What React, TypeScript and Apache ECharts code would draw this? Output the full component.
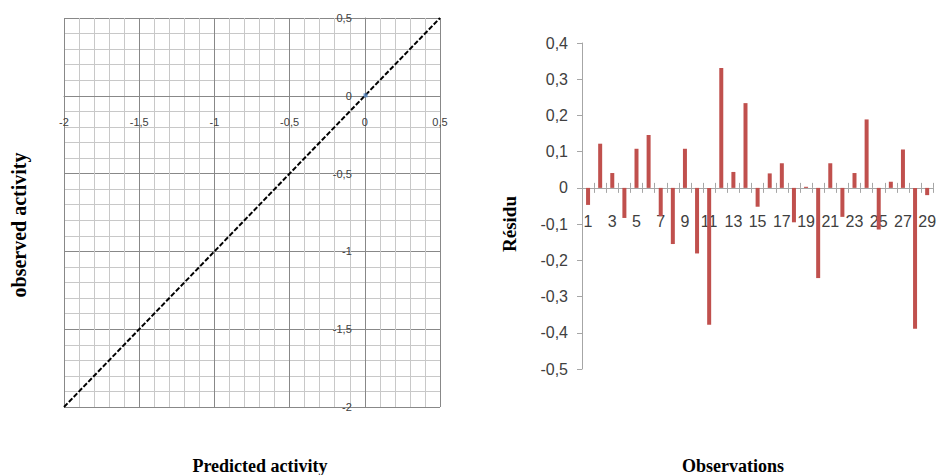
import React, { useEffect, useRef } from "react";
import * as echarts from "echarts";

// Left chart: predicted vs observed
const scatterTicks = [-2, -1.5, -1, -0.5, 0, 0.5];
const identityX = [-2, 0.5];
const identityY = [-2, 0.5];
const pointX = [0.005];
const pointY = [0.003];

// Right chart: residuals per observation
const observations = [
  "1", "2", "3", "4", "5", "6", "7", "8", "9", "10",
  "11", "12", "13", "14", "15", "16", "17", "18", "19", "20",
  "21", "22", "23", "24", "25", "26", "27", "28", "29",
];
const residuals = [
  -0.047, 0.122, 0.041, -0.083, 0.108, 0.146, -0.078, -0.155, 0.108, -0.181,
  -0.378, 0.331, 0.044, 0.234, -0.052, 0.04, 0.068, -0.095, 0.003, -0.249,
  0.068, -0.08, 0.041, 0.189, -0.115, 0.017, 0.106, -0.389, -0.02,
];
const residualTicks = [-0.5, -0.4, -0.3, -0.2, -0.1, 0, 0.1, 0.2, 0.3, 0.4];

const fmt = (v: number) => {
  if (Math.abs(v) < 1e-9) return "0";
  const r = Math.round(v * 10) / 10;
  return String(r).replace(".", ",");
};

// layout
const G0 = { left: 64, top: 18, width: 376, height: 389 };
const G1 = { left: 582, top: 43, width: 355, height: 326 };

export default function App() {
  const ref = useRef<HTMLDivElement>(null);
  useEffect(() => {
    if (!ref.current) return;
    const chart = echarts.init(ref.current, null, { renderer: "svg" });
    const labelFont = "Liberation Sans";
    const titleFont = "Liberation Serif";

    const sMin = scatterTicks[0];
    const sMax = scatterTicks[scatterTicks.length - 1];
    const rMin = residualTicks[0];
    const rMax = residualTicks[residualTicks.length - 1];
    // place axes where the other axis is zero
    const x0Offset = -G0.height * (0 - sMin) / (sMax - sMin);
    const y0Offset = -G0.width * (0 - sMin) / (sMax - sMin);
    const x1Offset = -G1.height * (0 - rMin) / (rMax - rMin);

    const option: any = {
      animation: false,
      backgroundColor: "#ffffff",
      grid: [G0, G1],
      xAxis: [
        {
          type: "value",
          gridIndex: 0,
          position: "bottom",
          offset: x0Offset,
          min: sMin,
          max: sMax,
          interval: 0.5,
          axisLine: { show: true, onZero: false, lineStyle: { color: "#888888", width: 1 } },
          axisTick: { show: false },
          axisLabel: {
            margin: 21,
            fontSize: 11,
            color: "#404040",
            fontFamily: labelFont,
            formatter: fmt,
            showMinLabel: true,
            showMaxLabel: true,
          },
          splitLine: { show: true, lineStyle: { color: "#888888", width: 1 } },
          minorTick: { show: false, splitNumber: 5 },
          minorSplitLine: { show: true, lineStyle: { color: "#c8c8c8", width: 1 } },
        },
        {
          type: "category",
          gridIndex: 1,
          position: "bottom",
          offset: x1Offset,
          data: observations,
          boundaryGap: true,
          axisLine: { show: true, onZero: false, lineStyle: { color: "#a6a6a6", width: 1 } },
          axisTick: { show: true, interval: 0, length: 5, inside: false, lineStyle: { color: "#a6a6a6" } },
          axisLabel: {
            interval: 1,
            margin: 26,
            fontSize: 16,
            color: "#404040",
            fontFamily: labelFont,
          },
          splitLine: { show: false },
        },
        {
          type: "category",
          gridIndex: 1,
          position: "bottom",
          offset: x1Offset,
          data: observations,
          boundaryGap: true,
          axisLine: { show: false, onZero: false },
          axisTick: { show: true, interval: 0, length: 5, inside: true, lineStyle: { color: "#a6a6a6" } },
          axisLabel: { show: false },
          splitLine: { show: false },
        },
      ],
      yAxis: [
        {
          type: "value",
          gridIndex: 0,
          position: "left",
          offset: y0Offset,
          min: sMin,
          max: sMax,
          interval: 0.5,
          axisLine: { show: true, onZero: false, lineStyle: { color: "#888888", width: 1 } },
          axisTick: { show: false },
          axisLabel: {
            margin: 13,
            fontSize: 11,
            color: "#404040",
            fontFamily: labelFont,
            formatter: fmt,
            showMinLabel: true,
            showMaxLabel: true,
          },
          splitLine: { show: true, lineStyle: { color: "#888888", width: 1 } },
          minorTick: { show: false, splitNumber: 5 },
          minorSplitLine: { show: true, lineStyle: { color: "#c8c8c8", width: 1 } },
        },
        {
          type: "value",
          gridIndex: 1,
          min: rMin,
          max: rMax,
          interval: 0.1,
          axisLine: { show: true, onZero: false, lineStyle: { color: "#a6a6a6", width: 1 } },
          axisTick: { show: true, length: 5, lineStyle: { color: "#a6a6a6" } },
          axisLabel: {
            margin: 14,
            fontSize: 16,
            color: "#404040",
            fontFamily: labelFont,
            formatter: fmt,
          },
          splitLine: { show: false },
        },
      ],
      series: [
        {
          type: "line",
          xAxisIndex: 0,
          yAxisIndex: 0,
          data: identityX.map((x, i) => [x, identityY[i]]),
          symbol: "none",
          lineStyle: { color: "#000000", width: 2, type: [5, 2] },
          z: 5,
        },
        {
          type: "scatter",
          xAxisIndex: 0,
          yAxisIndex: 0,
          data: pointX.map((x, i) => [x, pointY[i]]),
          symbol: "rect",
          symbolSize: 4,
          itemStyle: { color: "#4F81BD" },
          z: 6,
        },
        {
          type: "bar",
          xAxisIndex: 1,
          yAxisIndex: 1,
          data: residuals,
          barWidth: 4,
          itemStyle: { color: "#C0504D" },
        },
      ],
      graphic: [
        {
          type: "text",
          x: 19,
          y: 225,
          rotation: Math.PI / 2,
          style: {
            text: "observed activity",
            font: `bold 20px "${titleFont}"`,
            fill: "#000000",
            align: "center",
            verticalAlign: "middle",
          },
        },
        {
          type: "text",
          x: 509,
          y: 224,
          rotation: Math.PI / 2,
          style: {
            text: "Résidu",
            font: `bold 19px "${titleFont}"`,
            fill: "#000000",
            align: "center",
            verticalAlign: "middle",
          },
        },
        {
          type: "text",
          x: 260,
          y: 466,
          style: {
            text: "Predicted activity",
            font: `bold 18px "${titleFont}"`,
            fill: "#000000",
            align: "center",
            verticalAlign: "middle",
          },
        },
        {
          type: "text",
          x: 733,
          y: 466,
          style: {
            text: "Observations",
            font: `bold 18px "${titleFont}"`,
            fill: "#000000",
            align: "center",
            verticalAlign: "middle",
          },
        },
      ],
    };
    chart.setOption(option);
    return () => chart.dispose();
  }, []);
  return (
    <div
      ref={ref}
      style={{ position: "fixed", left: 0, top: 0, width: 939, height: 475, background: "#fff" }}
    />
  );
}
